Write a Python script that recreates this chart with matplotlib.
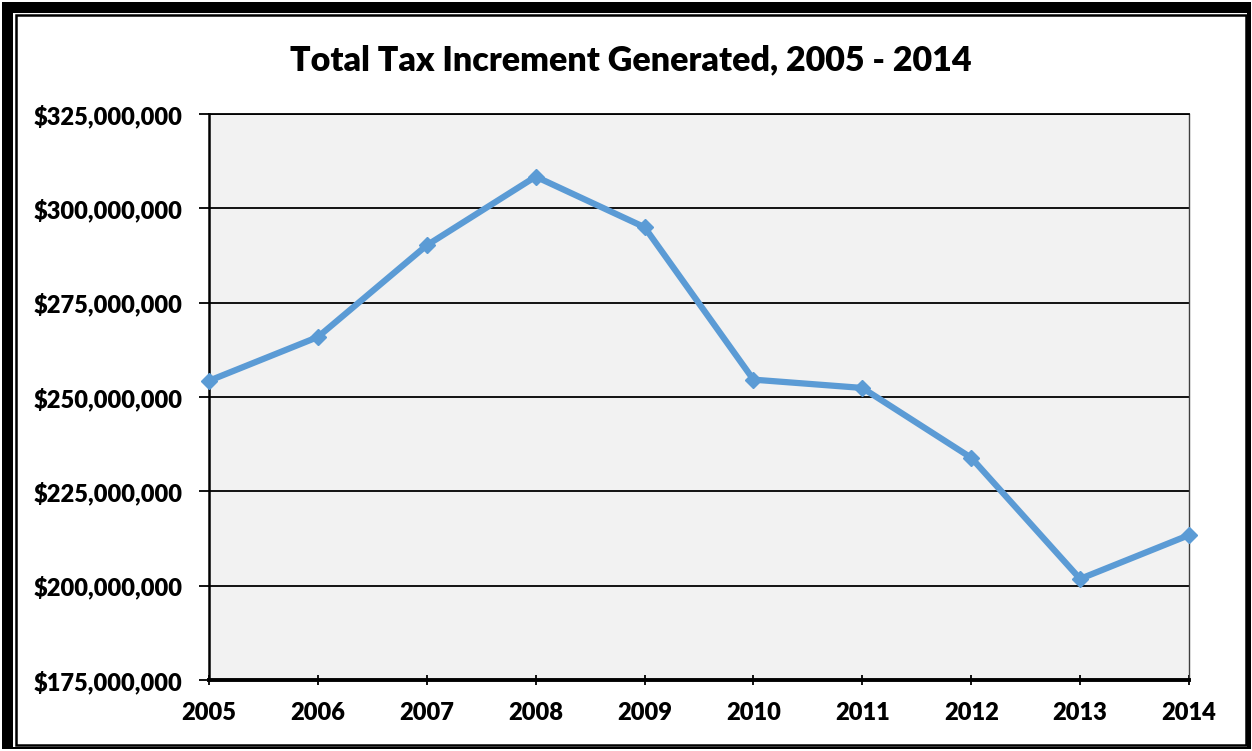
import matplotlib.pyplot as plt
from matplotlib.patches import Rectangle
from matplotlib.ticker import FuncFormatter

plt.rcParams['font.family'] = ['Lato', 'DejaVu Sans']
plt.rcParams['font.weight'] = 'bold'

# データ
years = [2005, 2006, 2007, 2008, 2009, 2010, 2011, 2012, 2013, 2014]
tax_increment = [254.3e6, 265.9e6, 290.2e6, 308.4e6, 295.0e6,
                 254.6e6, 252.4e6, 233.9e6, 201.8e6, 213.4e6]
y_ticks = [175e6, 200e6, 225e6, 250e6, 275e6, 300e6, 325e6]

fig = plt.figure(figsize=(12.52, 7.51), dpi=100)
W, H = 1252, 751

# 外枠（二重線）
fig.patches.append(Rectangle((2 / W, 2 / H), 1249 / W, 747 / H, transform=fig.transFigure,
                             facecolor='black', edgecolor='none', zorder=-3))
fig.patches.append(Rectangle((13 / W, 4 / H), 1234 / W, 734 / H, transform=fig.transFigure,
                             facecolor='white', edgecolor='none', zorder=-2))
fig.patches.append(Rectangle((16 / W, 6 / H), 1230 / W, 730 / H, transform=fig.transFigure,
                             facecolor='none', edgecolor='black', linewidth=1.8, zorder=-1))

ax = fig.add_axes([209 / W, 1 - 680 / H, (1189 - 209) / W, (680 - 114) / H])
ax.set_facecolor('#F2F2F2')

ax.plot(years, tax_increment, color='#5B9BD5', linewidth=4.5, marker='D',
        markersize=8, zorder=5, clip_on=False)

ax.set_xlim(2005, 2014)
ax.set_ylim(175e6, 325e6)
ax.set_xticks(years)
ax.set_yticks(y_ticks)
ax.yaxis.set_major_formatter(FuncFormatter(lambda v, p: f'${v:,.0f}'))
ax.grid(axis='y', color='black', linewidth=1.3)
ax.set_axisbelow(True)

ax.tick_params(axis='y', labelsize=17, length=7, width=1.3, pad=12)
ax.tick_params(axis='x', labelsize=17, length=7, width=1.3, direction='inout', pad=12)
for lab in ax.get_xticklabels() + ax.get_yticklabels():
    lab.set_fontweight('heavy')

ax.spines['left'].set_linewidth(1.8)
ax.spines['bottom'].set_linewidth(2.8)
ax.spines['right'].set_linewidth(1.0)
ax.spines['right'].set_color('#404040')
ax.spines['top'].set_linewidth(1.3)

fig.text(631 / W, 1 - 60 / H, 'Total Tax Increment Generated, 2005 - 2014',
         ha='center', va='center', fontsize=24.5, fontweight='heavy')

plt.savefig('out.png', dpi=100)
plt.close()
